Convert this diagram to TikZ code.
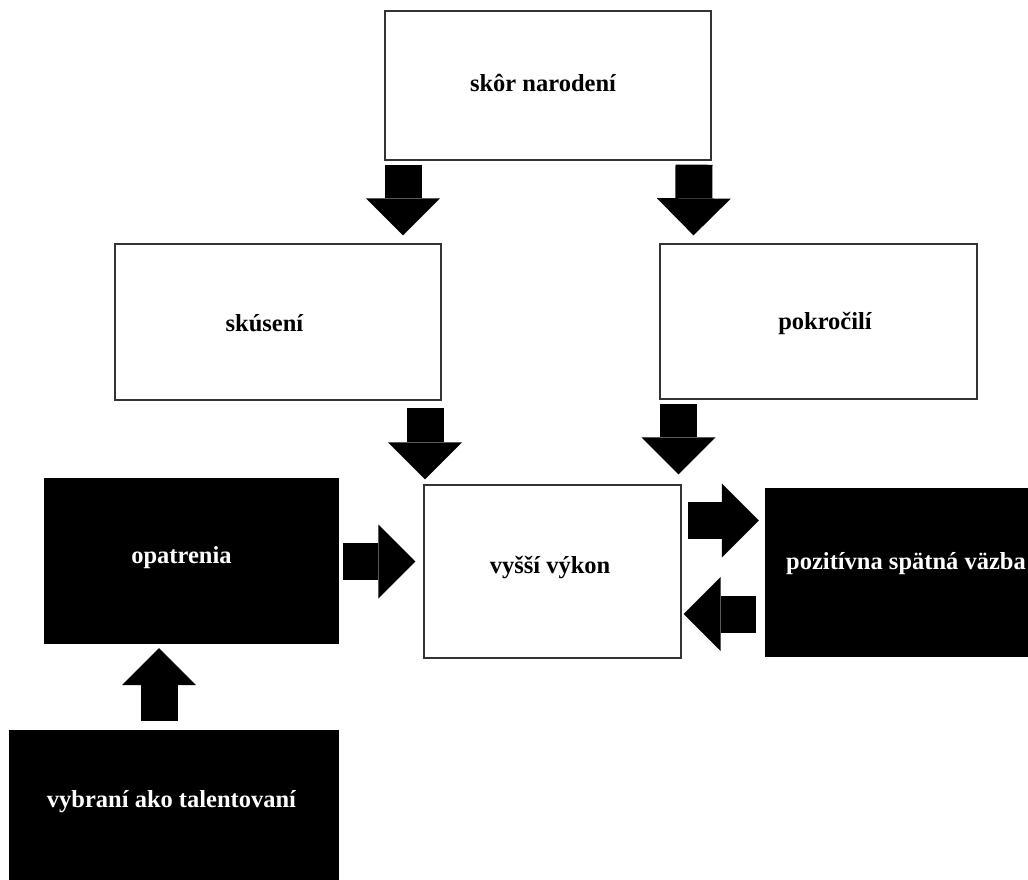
\documentclass[tikz,border=0pt]{standalone}
\usepackage{fontspec}
\setmainfont{Liberation Serif}
\usetikzlibrary{arrows.meta}
\begin{document}
\begin{tikzpicture}[x=1pt,y=-1pt,
  txt/.style={font=\fontsize{24.5}{28}\selectfont\bfseries, inner sep=0pt},
  whitebox/.style={draw=black!80, line width=1.3pt, fill=white, inner sep=0pt},
  darkbox/.style={draw=black, fill=black, inner sep=0pt},
  blockarrow/.style={line width=37pt, draw=black,
    -{Triangle[width=74pt,length=37pt,line width=0pt]}}]
  \useasboundingbox (0,0) rectangle (1028,879);
  \clip (0,0) rectangle (1028,879);

  % boxes
  \node[whitebox, minimum width=326pt, minimum height=149pt,
        label={[txt, xshift=-5pt, yshift=3pt]center:skôr narodení}] (skor) at (548,85.5) {};
  \node[whitebox, minimum width=326pt, minimum height=156pt,
        label={[txt, xshift=-13.5pt, yshift=-1pt]center:skúsení}] (skus) at (278,322) {};
  \node[whitebox, minimum width=317pt, minimum height=155pt,
        label={[txt, xshift=6.5pt, yshift=-2pt]center:pokročilí}] (pokr) at (818.5,321.5) {};
  \node[whitebox, minimum width=257pt, minimum height=173pt,
        label={[txt, xshift=-2.5pt, yshift=4pt]center:vyšší výkon}] (vyssi) at (552.5,571.5) {};
  \node[darkbox, minimum width=294pt, minimum height=165pt,
        label={[txt, text=white, xshift=-9.5pt, yshift=3pt]center:opatrenia}] (opat) at (191,560.5) {};
  \node[darkbox, minimum width=263pt, minimum height=168pt,
        label={[txt, text=white, xshift=9.5pt, yshift=8pt]center:pozitívna spätná väzba}] (poz) at (896.5,572) {};
  \node[darkbox, minimum width=329pt, minimum height=160pt,
        label={[txt, text=white, xshift=-2pt, yshift=8pt]center:vybraní ako talentovaní}] (vyb) at (173.5,810) {};

  % block arrows
  \draw[blockarrow] ([xshift=-145pt,yshift=-4pt]skor.south) -- ([xshift=125pt,yshift=8pt]skus.north);
  \draw[blockarrow] ([xshift=146pt,yshift=-4pt]skor.south) -- ([xshift=-125pt,yshift=8pt]pokr.north);
  \draw[blockarrow] ([xshift=147pt,yshift=-7pt]skus.south) -- ([xshift=-127.5pt,yshift=5pt]vyssi.north);
  \draw[blockarrow] ([xshift=-140pt,yshift=-4pt]pokr.south) -- ([xshift=126pt,yshift=10pt]vyssi.north);
  \draw[blockarrow] ([xshift=5pt,yshift=-1pt]opat.east) -- ([xshift=-8pt,yshift=10pt]vyssi.west);
  \draw[blockarrow] ([xshift=6pt,yshift=51pt]vyssi.east) -- ([xshift=-6pt,yshift=51.5pt]poz.west);
  \draw[blockarrow] ([xshift=-9pt,yshift=-42pt]poz.west) -- ([xshift=2pt,yshift=-42.5pt]vyssi.east);
  \draw[blockarrow] ([xshift=-14.5pt,yshift=9pt]vyb.north) -- ([xshift=-32pt,yshift=-5pt]opat.south);
\end{tikzpicture}
\end{document}
